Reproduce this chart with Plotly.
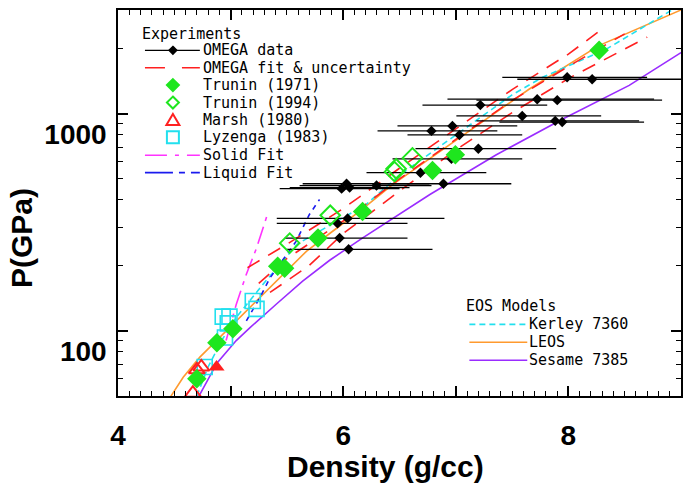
import numpy as np
import plotly.graph_objects as go

# ---------------- data ----------------
# OMEGA data (density, pressure, asymmetric density error bars)
omega_x = [7.989, 8.211, 7.723, 7.901, 7.218, 7.590, 7.883, 7.945, 6.970, 6.784, 7.032, 7.200,
           6.961, 6.686, 5.986, 6.030, 6.057, 6.296, 6.890, 6.039, 5.950, 5.968, 6.048]
omega_y = [1469, 1439, 1165, 1153, 1094, 975, 925, 914, 877, 832, 797, 689,
           619, 534, 451, 475, 456, 466, 475, 329, 312, 267, 237]
omega_err_minus = [0.576, 0.665, 0.797, 0.718, 0.514, 0.585, 0.700, 0.558, 0.488, 0.479, 0.461, 0.558,
                   0.523, 0.479, 0.550, 0.390, 0.532, 0.683, 0.629, 0.629, 0.540, 0.488, 0.550]
omega_err_plus = [0.710, 0.900, 1.038, 0.931, 0.594, 0.701, 0.745, 0.727, 0.576, 0.585, 0.558, 0.692,
                  0.629, 0.585, 0.514, 0.736, 0.532, 0.488, 0.603, 0.860, 0.621, 0.603, 0.745]

# OMEGA fit & uncertainty
fit_x = [5.25, 5.5, 6.0, 6.5, 7.0, 7.5, 8.0, 8.5]
fit_y = [165, 215, 320, 500, 760, 1150, 1650, 2330]
fit_hi_x = [5.15, 5.5, 6.0, 6.5, 7.0, 7.5, 8.0, 8.3]
fit_hi_y = [195, 250, 365, 560, 850, 1290, 1880, 2450]
fit_lo_x = [5.35, 5.7, 6.0, 6.5, 7.0, 7.5, 8.0, 8.7]
fit_lo_y = [150, 200, 280, 440, 680, 1010, 1450, 2250]

# Trunin (1971)
trunin71_x = [4.70, 4.878, 5.02, 5.418, 5.48, 5.776, 6.172, 6.793, 6.996, 8.273]
trunin71_y = [60, 88, 102, 198, 194, 267, 354, 546, 646, 1955]
# Trunin (1994)
trunin94_x = [5.525, 5.885, 6.456, 6.47, 6.615]
trunin94_y = [253, 340, 540, 557, 625]
# Marsh (1980)
marsh_x = [4.665, 4.70, 4.74]
marsh_y = [51.5, 66, 68]
marsh_solid_x = [4.875]
marsh_solid_y = [68]
# Lyzenga (1983)
lyz_x = [4.77, 4.93, 4.99, 4.975, 4.95, 5.197, 5.23]
lyz_y = [68, 116, 116, 108, 93, 137, 126]

# Solid / Liquid fits
solid_x = [4.96, 5.05, 5.14, 5.23, 5.33]
solid_y = [90, 132, 182, 240, 347]
liquid_x = [5.14, 5.26, 5.35, 5.46, 5.58, 5.70, 5.79]
liquid_y = [111, 142, 175, 209, 257, 343, 402]

# EOS models
kerley_x = [4.70, 4.80, 4.92, 5.05, 5.29, 5.59, 5.90, 6.20, 6.50, 7.00, 7.50, 7.77, 8.33, 8.92]
kerley_y = [50, 68, 90, 115, 164, 250, 310, 380, 520, 800, 1220, 1469, 1972, 3000]
leos_x = [4.467, 4.579, 4.727, 4.875, 5.052, 5.259, 5.466, 5.673, 5.906, 6.145, 6.438, 6.766, 6.943, 7.65, 8.27, 9.0]
leos_y = [49.6, 61, 75.5, 90, 111, 142, 181, 232, 287, 354, 471, 619, 718, 1294, 2056, 3000]
sesame_x = [4.71, 4.88, 5.05, 5.17, 5.41, 5.64, 5.88, 6.17, 6.77, 7.36, 7.95, 8.54, 9.0]
sesame_y = [49, 71, 90, 103, 133, 169, 211, 267, 424, 646, 944, 1349, 1910]

# axes
x_range = [4, 9]
x_tickvals = [4, 5, 6, 7, 8, 9]
x_ticktext = ["4", "", "6", "", "8", ""]
y_range = [50, 3000]
y_tickvals = [100, 1000]
y_ticktext = ["100", "1000"]
y_minor = [50, 60, 70, 80, 90, 200, 300, 400, 500, 600, 700, 800, 900, 2000, 3000]

# legend texts
exp_title = "Experiments"
exp_labels = ["OMEGA data", "OMEGA fit & uncertainty", "Trunin (1971)", "Trunin (1994)",
              "Marsh (1980)", "Lyzenga (1983)", "Solid Fit", "Liquid Fit"]
eos_title = "EOS Models"
eos_labels = ["Kerley 7360", "LEOS", "Sesame 7385"]

# ---------------- colours ----------------
C_RED = "#ff2020"
C_GREEN = "#1ee61e"
C_CYAN = "#22e0ee"
C_MAG = "#ff33ff"
C_BLUE = "#1a1aee"
C_ORANGE = "#ff9a2e"
C_PURPLE = "#9a2cff"

FIT_DASH = "14px,10px"
KER_DASH = "6px,4px"
SOLID_DASH = "18px,6px,4px,6px"
LIQ_DASH = "5px,5px"

fig = go.Figure()

def line(x, y, color, dash="solid", width=1.6):
    fig.add_trace(go.Scatter(x=x, y=y, mode="lines", line=dict(color=color, dash=dash, width=width),
                             showlegend=False, hoverinfo="skip"))

line(sesame_x, sesame_y, C_PURPLE)
line(leos_x, leos_y, C_ORANGE)
line(kerley_x, kerley_y, C_CYAN, KER_DASH)
line(solid_x, solid_y, C_MAG, SOLID_DASH)
line(liquid_x, liquid_y, C_BLUE, LIQ_DASH)
line(fit_x, fit_y, C_RED, FIT_DASH)
line(fit_hi_x, fit_hi_y, C_RED, FIT_DASH)
line(fit_lo_x, fit_lo_y, C_RED, FIT_DASH)

fig.add_trace(go.Scatter(
    x=omega_x, y=omega_y, mode="markers",
    marker=dict(symbol="diamond", size=8, color="black"),
    error_x=dict(type="data", symmetric=False, array=omega_err_plus, arrayminus=omega_err_minus,
                 color="black", thickness=1.3, width=0),
    showlegend=False))

fig.add_trace(go.Scatter(x=lyz_x, y=lyz_y, mode="markers",
                         marker=dict(symbol="square-open", size=15, color=C_CYAN, line=dict(width=1.6)),
                         showlegend=False))
fig.add_trace(go.Scatter(x=marsh_x, y=marsh_y, mode="markers",
                         marker=dict(symbol="triangle-up-open", size=14, color=C_RED, line=dict(width=2)),
                         showlegend=False))
fig.add_trace(go.Scatter(x=marsh_solid_x, y=marsh_solid_y, mode="markers",
                         marker=dict(symbol="triangle-up", size=14, color=C_RED),
                         showlegend=False))
fig.add_trace(go.Scatter(x=trunin94_x, y=trunin94_y, mode="markers",
                         marker=dict(symbol="diamond-open", size=15, color=C_GREEN, line=dict(width=2)),
                         showlegend=False))
fig.add_trace(go.Scatter(x=trunin71_x, y=trunin71_y, mode="markers",
                         marker=dict(symbol="diamond", size=15, color=C_GREEN),
                         showlegend=False))

# ---------------- layout ----------------
L, R, T, B = 118, 682, 8, 396
W, H = 691, 490

def px(xp):
    return (xp - L) / (R - L)

def py(yp):
    return (B - yp) / (B - T)

TICKFONT = dict(family="Liberation Sans", size=28, color="black", weight="bold")
LEGFONT = dict(family="DejaVu Sans Mono", size=15, color="black")

axis_common = dict(showline=True, linecolor="black", linewidth=1.5, mirror="allticks",
                   ticks="inside", ticklen=10, tickwidth=1.5, tickcolor="black",
                   showgrid=False, zeroline=False, tickfont=TICKFONT)

fig.update_layout(
    width=W, height=H, margin=dict(l=L, r=W - R, t=T, b=H - B),
    plot_bgcolor="white", paper_bgcolor="white", showlegend=False,
    xaxis=dict(range=x_range, tickmode="array", tickvals=x_tickvals, ticktext=x_ticktext,
               minor=dict(dtick=0.1, tick0=4, ticks="inside", ticklen=5, tickwidth=1, tickcolor="black",
                          showgrid=False),
               ticklabelstandoff=14, **axis_common),
    yaxis=dict(type="log", range=[np.log10(y_range[0]), np.log10(y_range[1])],
               tickmode="array", tickvals=y_tickvals, ticktext=y_ticktext,
               minor=dict(tickmode="array", tickvals=y_minor, ticks="inside", ticklen=5, tickwidth=1,
                          tickcolor="black", showgrid=False),
               ticklabelshift=21, ticklabelstandoff=4, **axis_common),
)

ann = []
shapes = []
ann.append(dict(text="P(GPa)", x=px(22), y=py(237), xref="paper", yref="paper", showarrow=False,
                xanchor="center", yanchor="middle", textangle=-90,
                font=dict(family="Liberation Sans", size=30, color="black", weight="bold")))
ann.append(dict(text="Density (g/cc)", x=px(386), y=py(467), xref="paper", yref="paper", showarrow=False,
                xanchor="center", yanchor="middle",
                font=dict(family="Liberation Sans", size=30, color="black", weight="bold")))

def text(t, xp, yp):
    ann.append(dict(text=t, x=px(xp), y=py(yp), xref="paper", yref="paper", showarrow=False,
                    xanchor="left", yanchor="middle", borderpad=0, font=LEGFONT))

def seg(x0, x1, yp, color, dash="solid", width=1.6):
    shapes.append(dict(type="line", xref="paper", yref="paper", x0=px(x0), x1=px(x1), y0=py(yp), y1=py(yp),
                       line=dict(color=color, dash=dash, width=width)))

def poly(pts, color, fill):
    d = "M " + " L ".join(f"{px(a)},{py(b)}" for a, b in pts) + " Z"
    shapes.append(dict(type="path", xref="paper", yref="paper", path=d,
                       line=dict(color=color, width=2), fillcolor=color if fill else "rgba(0,0,0,0)"))

def diamond(cx, cy, r, color, fill):
    poly([(cx, cy - r), (cx + r, cy), (cx, cy + r), (cx - r, cy)], color, fill)

# Experiments legend
text(exp_title, 141, 32)
ys = [48.5, 66, 83.5, 101, 118.5, 136, 154, 171.5]
LX0, LX1, LXC, TX = 145, 200, 173, 202
seg(LX0, LX1, ys[0], "black", width=1.3)
diamond(LXC, ys[0], 3.5, "black", True)
seg(LX0, LX1, ys[1], C_RED, "20px,17px")
diamond(LXC, ys[2], 6, C_GREEN, True)
diamond(LXC, ys[3], 6, C_GREEN, False)
poly([(LXC, ys[4] - 6), (LXC + 6.5, ys[4] + 5), (LXC - 6.5, ys[4] + 5)], C_RED, False)
poly([(LXC - 6, ys[5] - 6), (LXC + 6, ys[5] - 6), (LXC + 6, ys[5] + 6), (LXC - 6, ys[5] + 6)], C_CYAN, False)
seg(LX0, LX1, ys[6], C_MAG, "22px,8px,4px,8px")
seg(LX0, LX1, ys[7], C_BLUE, "28px,6px,6px,6px")
for lab, yy in zip(exp_labels, ys):
    text(lab, TX, yy)

# EOS legend
text(eos_title, 466, 306)
ys2 = [324, 342, 360]
seg(470, 528, ys2[0], C_CYAN, KER_DASH)
seg(470, 528, ys2[1], C_ORANGE)
seg(470, 528, ys2[2], C_PURPLE)
for lab, yy in zip(eos_labels, ys2):
    text(lab, 529, yy)

fig.update_layout(annotations=ann, shapes=shapes)
fig.write_html("out.html")
